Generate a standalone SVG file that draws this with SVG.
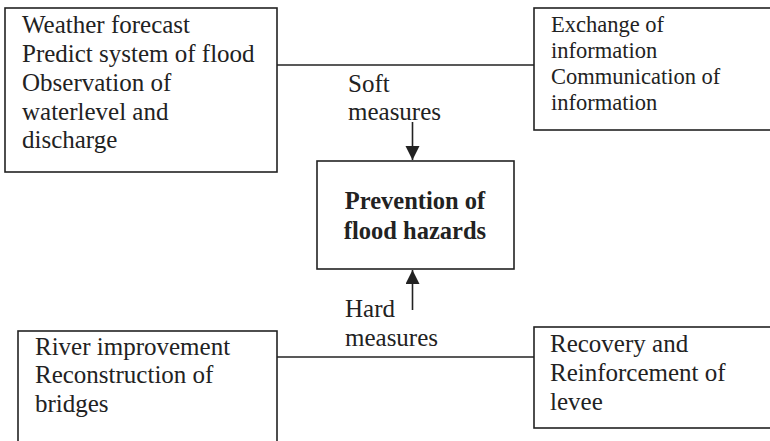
<svg xmlns="http://www.w3.org/2000/svg" width="770" height="441" viewBox="0 0 770 441">
<style>
.box{fill:#fff;stroke:#222;stroke-width:1.6}
.ln{stroke:#222;stroke-width:1.6;fill:none}
.t{font-family:"Liberation Serif","Times New Roman",serif;font-size:25px;fill:#222}
.s{font-size:22.5px}
.b{font-weight:bold;text-anchor:middle;font-size:24.5px}
</style>
<defs>
<marker id="ah" markerWidth="14" markerHeight="18" refX="14" refY="7" orient="auto" markerUnits="userSpaceOnUse">
<path d="M0,0 L14,7 L0,14 Z" fill="#222"/>
</marker>
</defs>
<g id="connectors">
<line class="ln" x1="277" y1="65" x2="534" y2="65"/>
<line class="ln" x1="277" y1="357" x2="534" y2="357"/>
<line class="ln" x1="412.5" y1="122" x2="412.5" y2="160" marker-end="url(#ah)"/>
<line class="ln" x1="412.5" y1="310" x2="412.5" y2="270" marker-end="url(#ah)"/>
</g>
<g id="node-weather">
<rect class="box" x="5" y="8" width="272" height="164"/>
<text class="t"><tspan x="22" y="33">Weather forecast</tspan><tspan x="22" y="62">Predict system of flood</tspan><tspan x="22" y="91">Observation of</tspan><tspan x="22" y="120">waterlevel and</tspan><tspan x="22" y="148">discharge</tspan></text>
</g>
<g id="node-exchange">
<rect class="box" x="534" y="8" width="240" height="122"/>
<text class="t s"><tspan x="551" y="32">Exchange of</tspan><tspan x="551" y="58">information</tspan><tspan x="551" y="84">Communication of</tspan><tspan x="551" y="110">information</tspan></text>
</g>
<g id="label-soft">
<text class="t"><tspan x="348" y="92">Soft</tspan><tspan x="348" y="120">measures</tspan></text>
</g>
<g id="node-prevention">
<rect class="box" x="317" y="161" width="197" height="108"/>
<text class="t b"><tspan x="415" y="209">Prevention of</tspan><tspan x="415" y="239">flood hazards</tspan></text>
</g>
<g id="label-hard">
<text class="t"><tspan x="345" y="317">Hard</tspan><tspan x="345" y="346">measures</tspan></text>
</g>
<g id="node-river">
<rect class="box" x="18" y="331" width="259" height="120"/>
<text class="t"><tspan x="35" y="355">River improvement</tspan><tspan x="35" y="383">Reconstruction of</tspan><tspan x="35" y="412">bridges</tspan></text>
</g>
<g id="node-recovery">
<rect class="box" x="534" y="327" width="240" height="101"/>
<text class="t"><tspan x="550" y="352">Recovery and</tspan><tspan x="550" y="381">Reinforcement of</tspan><tspan x="550" y="410">levee</tspan></text>
</g>
</svg>
